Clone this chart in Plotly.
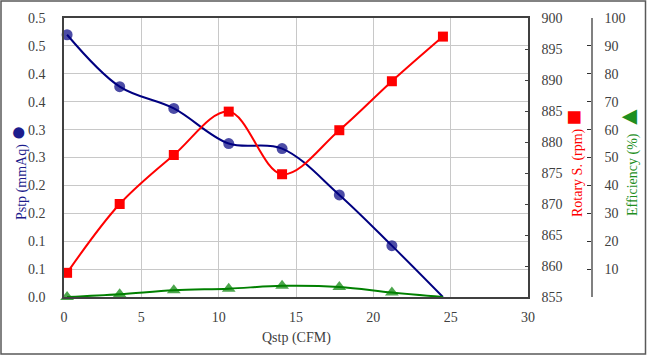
import plotly.graph_objects as go

# ---- data ----
qstp = [0.2, 3.6, 7.1, 10.65, 14.1, 17.8, 21.2, 24.5]
pstp = [0.470, 0.377, 0.338, 0.275, 0.266, 0.183, 0.092, 0.0]
rotary = [858.9, 870.0, 877.9, 884.9, 874.8, 881.9, 889.8, 897.0]
efficiency = [0.0, 1.0, 2.4, 3.0, 4.0, 3.6, 1.6, 0.0]

p_tickvals = [0, 0.05, 0.1, 0.15, 0.2, 0.25, 0.3, 0.35, 0.4, 0.45, 0.5]
p_ticktext = ["0.0", "0.1", "0.1", "0.2", "0.2", "0.3", "0.3", "0.4", "0.4", "0.5", "0.5"]
r_tickvals = [855, 860, 865, 870, 875, 880, 885, 890, 895, 900]
e_tickvals = [10, 20, 30, 40, 50, 60, 70, 80, 90, 100]
x_tickvals = [0, 5, 10, 15, 20, 25, 30]

FONT = "Liberation Serif, Times New Roman, serif"
NAVY = "#000080"
RED = "#FF0000"
GREEN = "#008000"
TXT = "#404040"

W, H = 647, 356
ML, MR, MT, MB = 64, 40, 18, 59
PW = W - ML - MR
PH = H - MT - MB


def px(xp):
    return (xp - ML) / PW


def py(yp):
    return (H - MB - yp) / PH


n = len(qstp)
circ_sizes = [11] * (n - 1) + [0]
tri_sizes = [12] * (n - 1) + [0]

fig = go.Figure()
fig.add_trace(go.Scatter(
    x=qstp, y=pstp, mode="lines+markers", yaxis="y",
    line=dict(color=NAVY, width=2, shape="spline", smoothing=1),
    marker=dict(symbol="circle", size=circ_sizes, color=NAVY,
                line=dict(width=0)),
    cliponaxis=False, showlegend=False))
fig.add_trace(go.Scatter(
    x=qstp, y=rotary, mode="lines+markers", yaxis="y2",
    line=dict(color=RED, width=2, shape="spline", smoothing=1),
    marker=dict(symbol="square", size=10, color=RED, line=dict(width=0)),
    cliponaxis=False, showlegend=False))
fig.add_trace(go.Scatter(
    x=qstp, y=efficiency, mode="lines+markers", yaxis="y3",
    line=dict(color=GREEN, width=2, shape="spline", smoothing=1),
    marker=dict(symbol="triangle-up", size=tri_sizes, color=GREEN,
                line=dict(width=0)),
    cliponaxis=False, showlegend=False))

tickfont = dict(family=FONT, size=14, color=TXT)

fig.update_layout(
    width=W, height=H,
    margin=dict(l=ML, r=MR, t=MT, b=MB),
    paper_bgcolor="white", plot_bgcolor="white",
    font=dict(family=FONT, size=14, color=TXT),
    hovermode=False,
    xaxis=dict(
        domain=[0, px(528)], range=[0, 30],
        tickvals=x_tickvals, tickfont=tickfont,
        showgrid=True, gridcolor="#c8c8c8", gridwidth=1,
        showline=True, linecolor="#404040", linewidth=1.5, mirror=True,
        ticks="", zeroline=False, ticklabelstandoff=6,
    ),
    yaxis=dict(
        range=[0, 0.5], tickvals=p_tickvals, ticktext=p_ticktext,
        tickfont=tickfont,
        showgrid=True, gridcolor="#c8c8c8", gridwidth=1,
        showline=True, linecolor="#404040", linewidth=1.5,
        ticks="", zeroline=False, ticklabelstandoff=14,
    ),
    yaxis2=dict(
        range=[855, 900], tickvals=r_tickvals, tickfont=tickfont,
        overlaying="y", side="right", anchor="x",
        showgrid=False, showline=True, linecolor="#404040", linewidth=1.5,
        ticks="inside", ticklen=3, tickcolor="#404040",
        zeroline=False, ticklabelstandoff=9,
    ),
    yaxis3=dict(
        range=[0, 100], tickvals=e_tickvals, tickfont=tickfont,
        overlaying="y", side="right", anchor="free", position=px(592),
        showgrid=False, showline=True, linecolor="#808080", linewidth=1.5,
        ticks="inside", ticklen=4, tickcolor="#303030",
        zeroline=False, ticklabelstandoff=9,
    ),
)

sym = "<span style='font-size:26px'>{}</span>"
fig.add_annotation(x=px(17), y=py(173), xref="paper", yref="paper",
                   text="Pstp (mmAq) " + sym.format("●"), textangle=-90,
                   showarrow=False, xanchor="center", yanchor="middle",
                   font=dict(family=FONT, size=14, color="#1c1c8c"))
fig.add_annotation(x=px(573), y=py(164), xref="paper", yref="paper",
                   text="Rotary S. (rpm) " + sym.format("■"), textangle=-90,
                   showarrow=False, xanchor="center", yanchor="middle",
                   font=dict(family=FONT, size=14, color=RED))
fig.add_annotation(x=px(629), y=py(160), xref="paper", yref="paper",
                   text="Efficiency (%) " + sym.format("▲"), textangle=-90,
                   showarrow=False, xanchor="center", yanchor="middle",
                   font=dict(family=FONT, size=14, color="#1f8f1f"))
fig.add_annotation(x=px(296), y=py(338), xref="paper", yref="paper",
                   text="Qstp (CFM)", showarrow=False,
                   xanchor="center", yanchor="middle",
                   font=dict(family=FONT, size=14, color=TXT))

fig.add_shape(type="rect", xref="paper", yref="paper",
              x0=px(1), x1=px(645.5), y0=py(354), y1=py(1),
              line=dict(color="#595959", width=1.5), layer="above")

fig.write_html("out.html",
               config={"displayModeBar": False},
               post_script="document.body.style.margin='0px';"
                           "document.body.style.overflow='hidden';")
